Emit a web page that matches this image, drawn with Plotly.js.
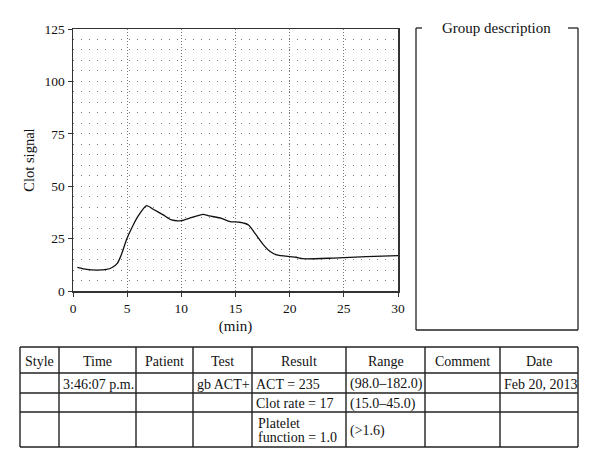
<!DOCTYPE html>
<html>
<head>
<meta charset="utf-8">
<script src="https://cdn.plot.ly/plotly-3.0.1.min.js"></script>
<style>html,body{margin:0;padding:0;background:#fff;}#chart{width:600px;height:468px;}</style>
</head>
<body>
<div id="chart"></div>
<script>
// ---- data ----
var timeMin = [0.4, 1.26, 2.2, 3.1, 3.57, 4.09, 4.49, 4.95, 5.56, 6.02, 6.79, 7.41, 8.33, 9.1, 10.0, 10.9, 12.0, 12.6, 13.7, 14.5, 15.4, 16.2, 16.8, 17.6, 18.2, 18.8, 20.0, 20.6, 21.2, 24.0, 27.1, 30.0];
var clotSignal = [11.3, 10.3, 10.0, 10.3, 11.1, 13.2, 17.7, 24.7, 31.5, 35.8, 40.7, 39.0, 36.3, 33.9, 33.6, 35.0, 36.6, 35.8, 34.7, 33.1, 32.8, 31.5, 27.5, 21.9, 18.8, 17.2, 16.4, 16.1, 15.4, 15.7, 16.4, 16.9];
var xTicks = [0, 5, 10, 15, 20, 25, 30];
var yTicks = [0, 25, 50, 75, 100, 125];
var tableHeaders = ["Style", "Time", "Patient", "Test", "Result", "Range", "Comment", "Date"];
var styleCol = ["", "", ""];
var timeCol = ["3:46:07 p.m.", "", ""];
var patientCol = ["", "", ""];
var testCol = ["gb ACT+", "", ""];
var resultCol = ["ACT = 235", "Clot rate = 17", "Platelet<br>function = 1.0"];
var rangeCol = ["(98.0–182.0)", "(15.0–45.0)", "(>1.6)"];
var commentCol = ["", "", ""];
var dateCol = ["Feb 20, 2013", "", ""];
var boxTitle = "Group description";

// ---- layout helpers (pixel -> paper) ----
var W = 600, H = 468;
var mL = 73, mR = 202, mT = 29, mB = 177;
var pw = W - mL - mR, ph = H - mT - mB;
function px(x) { return (x - mL) / pw; }
function py(y) { return (H - mB - y) / ph; }
var FONT = "Liberation Serif, Times New Roman, serif";

var shapes = [];
var annotations = [];
function line(x0, y0, x1, y1, w) {
  shapes.push({type: "line", xref: "paper", yref: "paper", x0: px(x0), y0: py(y0), x1: px(x1), y1: py(y1),
    line: {color: "#222", width: w || 1.3}});
}
function text(t, x, y, xanchor, size) {
  annotations.push({text: t, xref: "paper", yref: "paper", x: px(x), y: py(y), xanchor: xanchor || "center",
    yanchor: "middle", showarrow: false, align: "left", borderpad: 0,
    font: {family: FONT, size: size || 14, color: "#111"}});
}

// group description box
var bx0 = 416, bx1 = 578, by0 = 28, by1 = 330;
line(bx0, by0, bx0, by1);
line(bx0, by1, bx1, by1);
line(bx1, by0, bx1, by1);
line(bx0, by0, bx0 + 6, by0);
line(bx1 - 10, by0, bx1, by0);
text(boxTitle, 497, 28, "center", 15);

// table
var colEdges = [20, 59, 136, 193, 252, 346, 425, 500, 578];
var rowEdges = [347, 373, 393, 412, 447];
colEdges.forEach(function (cx) { line(cx, rowEdges[0], cx, rowEdges[rowEdges.length - 1], 1.4); });
rowEdges.forEach(function (ry) { line(colEdges[0], ry, colEdges[colEdges.length - 1], ry, 1.4); });
var columns = [styleCol, timeCol, patientCol, testCol, resultCol, rangeCol, commentCol, dateCol];
tableHeaders.forEach(function (h, i) {
  text(h, (colEdges[i] + colEdges[i + 1]) / 2, (rowEdges[0] + rowEdges[1]) / 2 + 1, "center", 14);
});
columns.forEach(function (col, i) {
  col.forEach(function (v, r) {
    if (!v) return;
    var lines = v.split("<br>");
    var cy = (rowEdges[r + 1] + rowEdges[r + 2]) / 2 + 1;
    var lh = 14;
    var indent = lines.length > 1 ? 5 : 3;
    lines.forEach(function (ln, k) {
      text(ln, colEdges[i] + indent, cy + (k - (lines.length - 1) / 2) * lh, "left", 14);
    });
  });
});

var trace = {
  x: timeMin, y: clotSignal, type: "scatter", mode: "lines",
  line: {color: "#111", width: 1.3, shape: "spline", smoothing: 0.6},
  hoverinfo: "skip", showlegend: false
};

var layout = {
  width: W, height: H,
  margin: {l: mL, r: mR, t: mT, b: mB, pad: 0},
  paper_bgcolor: "#fff", plot_bgcolor: "#fff",
  font: {family: FONT, size: 14, color: "#111"},
  showlegend: false,
  xaxis: {
    range: [0, 30], tickvals: xTicks, ticktext: xTicks.map(String),
    showline: true, linecolor: "#333", linewidth: 1.5, mirror: true,
    ticks: "outside", ticklen: 4, tickcolor: "#333",
    showgrid: true, gridcolor: "#777", gridwidth: 1, griddash: "1px,2px",
    zeroline: false, fixedrange: true,
    tickfont: {family: FONT, size: 13.5, color: "#111"},
    title: {text: "(min)", font: {family: FONT, size: 15, color: "#111"}, standoff: 6}
  },
  yaxis: {
    range: [0, 125], tickvals: yTicks, ticktext: yTicks.map(String),
    showline: true, linecolor: "#333", linewidth: 1.5, mirror: true,
    ticks: "outside", ticklen: 4, tickcolor: "#333",
    showgrid: true, gridcolor: "#777", gridwidth: 1, griddash: "1px,7px",
    minor: {dtick: 5, tick0: 0, showgrid: true, gridcolor: "#777", gridwidth: 1, griddash: "1px,7px", ticks: ""},
    zeroline: false, fixedrange: true,
    tickfont: {family: FONT, size: 13.5, color: "#111"},
    title: {text: "Clot signal", font: {family: FONT, size: 14.5, color: "#111"}, standoff: 6}
  },
  shapes: shapes,
  annotations: annotations
};

Plotly.newPlot("chart", [trace], layout, {displayModeBar: false, staticPlot: true});
</script>
</body>
</html>
